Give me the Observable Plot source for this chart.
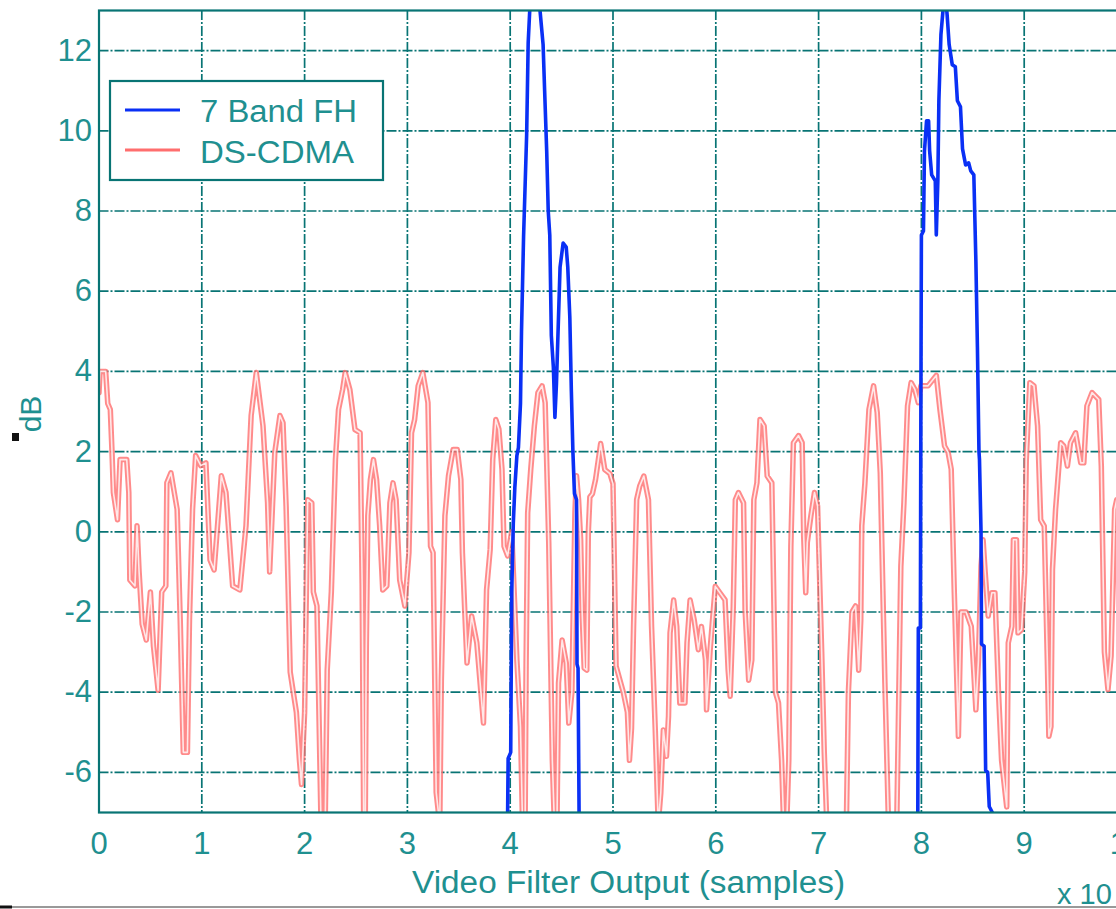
<!DOCTYPE html>
<html>
<head>
<meta charset="utf-8">
<script src="https://cdn.jsdelivr.net/npm/d3@7"></script>
<script src="https://cdn.jsdelivr.net/npm/@observablehq/plot@0.6"></script>
<style>
  html, body { margin: 0; padding: 0; overflow: hidden; background: #fff; }
  #chart svg { max-width: none !important; display: block; }
</style>
</head>
<body>
<div id="chart"></div>
<script>
const xTicks = [0, 1, 2, 3, 4, 5, 6, 7, 8, 9, 10];
const yTicks = [-6, -4, -2, 0, 2, 4, 6, 8, 10, 12];
const seriesNames = ["7 Band FH", "DS-CDMA"];

// DS-CDMA trace (x in units of 10^4 samples, y in dB)
const cdmaX = [0.00,0.01,0.065,0.085,0.11,0.125,0.14,0.18,0.205,0.27,0.29,0.30,0.35,0.37,0.39,0.42,0.46,0.50,0.53,0.575,0.61,0.65,0.66,0.70,0.76,0.79,0.82,0.86,0.88,0.91,0.94,0.99,1.04,1.08,1.12,1.19,1.235,1.30,1.37,1.43,1.48,1.53,1.595,1.64,1.66,1.71,1.76,1.79,1.82,1.86,1.92,1.95,1.97,2.00,2.03,2.07,2.085,2.12,2.16,2.20,2.22,2.26,2.30,2.33,2.37,2.395,2.44,2.49,2.54,2.56,2.575,2.59,2.60,2.615,2.64,2.67,2.70,2.73,2.76,2.80,2.83,2.86,2.89,2.925,2.975,3.015,3.04,3.07,3.105,3.15,3.20,3.225,3.25,3.28,3.315,3.33,3.365,3.40,3.445,3.485,3.52,3.535,3.56,3.58,3.625,3.675,3.715,3.74,3.77,3.805,3.83,3.86,3.89,3.92,3.94,3.975,4.015,4.065,4.10,4.12,4.145,4.155,4.17,4.20,4.235,4.27,4.31,4.34,4.375,4.41,4.43,4.455,4.47,4.505,4.545,4.57,4.60,4.63,4.645,4.665,4.685,4.70,4.72,4.745,4.76,4.775,4.80,4.83,4.88,4.92,4.97,5.00,5.03,5.10,5.14,5.16,5.18,5.20,5.23,5.26,5.30,5.345,5.375,5.41,5.44,5.465,5.49,5.52,5.54,5.555,5.59,5.62,5.65,5.70,5.72,5.75,5.79,5.83,5.86,5.90,5.91,5.945,5.995,6.04,6.09,6.12,6.14,6.17,6.19,6.22,6.27,6.285,6.32,6.35,6.37,6.40,6.43,6.47,6.50,6.545,6.58,6.61,6.64,6.66,6.69,6.71,6.73,6.755,6.805,6.84,6.855,6.875,6.89,6.925,6.96,6.99,7.03,7.055,7.08,7.27,7.29,7.325,7.36,7.39,7.41,7.42,7.45,7.49,7.535,7.57,7.60,7.645,7.68,7.76,7.80,7.83,7.865,7.90,7.935,7.97,7.995,8.065,8.145,8.18,8.225,8.26,8.29,8.32,8.36,8.385,8.435,8.485,8.53,8.555,8.58,8.60,8.62,8.65,8.685,8.715,8.75,8.78,8.83,8.845,8.88,8.895,8.925,8.94,8.975,9.005,9.02,9.055,9.095,9.13,9.16,9.195,9.225,9.24,9.26,9.275,9.305,9.355,9.385,9.42,9.45,9.50,9.55,9.58,9.61,9.66,9.725,9.75,9.78,9.815,9.845,9.88,9.90,9.915,9.93,9.95];
const cdmaY = [3.47,4.0,4.0,3.2,3.05,2.1,0.98,0.3,1.8,1.8,0.98,-1.2,-1.35,0.15,-1.0,-2.3,-2.7,-1.5,-2.85,-3.95,-1.5,-1.35,1.22,1.47,0.56,-2.2,-5.5,-5.5,-2.2,0.56,1.9,1.65,1.72,-0.7,-0.95,1.4,0.98,-1.35,-1.45,0.15,2.9,3.97,2.65,0.72,-1.0,1.98,2.9,2.72,0.64,-3.5,-4.5,-5.7,-6.3,-4.5,0.8,0.72,-1.5,-1.85,-7.3,-7.3,-3.45,-1.5,1.8,3.05,3.55,3.97,3.55,2.55,2.47,-1.35,-7.3,-7.3,-2.9,0.4,1.3,1.8,1.3,0.15,-1.45,-1.35,0.72,1.22,0.8,-1.2,-1.85,-0.52,2.47,2.8,3.64,3.97,3.22,-0.36,-0.52,-6.5,-7.3,-3.7,0.4,1.4,2.05,2.05,1.3,-0.52,-2.1,-3.27,-2.1,-2.77,-4.0,-4.77,-1.45,-0.44,1.8,2.8,2.56,1.56,-0.36,-0.6,0.0,-3.2,-4.86,-7.3,-7.3,-3.2,0.47,1.56,2.64,3.47,3.64,3.22,-0.27,-5.7,-7.3,-7.3,-3.77,-2.7,-3.27,-4.77,-4.0,0.5,1.4,0.8,-0.2,-2.0,-3.4,-3.45,0.0,0.87,0.95,1.3,2.2,1.55,1.45,1.2,-3.35,-4.0,-4.5,-5.7,-4.9,-2.36,0.8,1.14,1.39,0.8,-2.36,-4.86,-7.3,-6.5,-4.94,-5.6,-4.6,-2.52,-1.7,-2.36,-4.27,-4.27,-2.77,-1.7,-2.2,-2.94,-2.36,-3.2,-4.44,-2.94,-1.36,-1.52,-1.7,-3.44,-4.1,-1.86,0.8,0.98,0.72,-1.94,-3.7,-3.2,0.8,1.22,2.8,2.64,1.39,1.22,-4.0,-4.27,-5.7,-7.3,-7.3,-5.7,-0.36,2.22,2.4,2.22,-0.1,-1.52,-0.27,0.4,0.98,0.64,-3.0,-5.5,-7.3,-7.3,-4.0,-2.0,-1.85,-3.45,-2.2,0.15,1.2,3.05,3.64,2.97,1.47,-3.77,-7.3,-7.3,-0.86,0.72,3.14,3.72,3.56,3.22,3.64,3.64,3.9,3.06,2.14,1.98,1.56,-1.52,-5.1,-2.0,-2.0,-2.36,-4.44,-3.2,-0.86,-0.2,-1.0,-2.1,-1.52,-1.52,-4.0,-5.7,-6.86,-2.77,-2.36,-0.2,-0.2,-2.52,-2.44,-1.0,1.8,3.72,3.64,2.64,0.3,0.14,-3.2,-5.1,-4.86,-0.94,0.56,2.22,2.14,1.64,2.22,2.47,1.72,1.72,3.14,3.47,3.3,1.64,-3.0,-3.94,-3.1,0.56,0.8,-1.0,-4.0,-4.0];

// 7 Band FH trace: off the chart (below -7 dB) except two bursts
const fhX = [3.96,3.975,3.98,4.005,4.015,4.03,4.045,4.065,4.08,4.10,4.11,4.13,4.16,4.175,4.19,4.20,4.28,4.29,4.32,4.335,4.355,4.37,4.385,4.40,4.42,4.435,4.45,4.485,4.515,4.545,4.56,4.58,4.595,4.61,4.625,4.645,4.647,4.65,4.66,4.67,4.685,7.955,7.965,7.97,7.99,7.995,8.00,8.02,8.03,8.05,8.07,8.08,8.10,8.135,8.145,8.16,8.17,8.19,8.21,8.22,8.24,8.25,8.27,8.30,8.33,8.35,8.38,8.40,8.43,8.46,8.48,8.51,8.53,8.545,8.56,8.565,8.58,8.585,8.61,8.625,8.645,8.66,8.69,8.70];
const fhY = [-9,-7.0,-5.65,-5.5,-1.5,0.2,1.1,1.9,2.1,3.2,5.0,7.35,9.9,12.2,13.0,14,14,13.0,12.15,11.0,9.5,8.0,7.4,4.9,4.1,2.85,3.7,6.6,7.2,7.1,6.6,5.35,3.5,2.0,0.95,0.8,-0.7,-3.3,-3.4,-7.0,-9,-9,-7.0,-2.4,-2.4,3.2,7.4,7.5,9.5,10.25,10.25,9.5,8.9,8.75,7.4,8.75,10.75,12.4,13.0,13.3,13.2,12.9,12.15,11.65,11.6,10.75,10.6,9.55,9.15,9.2,9.0,8.9,6.75,4.6,2.0,1.8,0.0,-2.8,-2.85,-5.95,-6.0,-6.85,-7.0,-9];

const cdma = cdmaX.map((x, i) => ({x, y: cdmaY[i]}));
const fh = fhX.map((x, i) => ({x, y: fhY[i]}));

const TEAL = "#087474";
const TEXT = "#1f9090";
const RED = "#ff6e6e";
const BLUE = "#0a30f5";

const chart = Plot.plot({
  width: 1135,
  height: 909,
  marginLeft: 98.5,
  marginRight: 8.5,
  marginTop: 10,
  marginBottom: 97,
  style: {fontFamily: "'Liberation Sans', Arial, sans-serif", fontSize: "31px", color: TEXT, background: "white", maxWidth: "none"},
  x: {domain: [0, 10], ticks: xTicks, tickSize: 0, tickPadding: 19, label: null, tickFormat: d => String(d)},
  y: {domain: [-7, 13], ticks: yTicks, tickSize: 0, tickPadding: 7, label: null, tickFormat: d => String(d)},
  marks: [
    Plot.ruleX(xTicks, {stroke: TEAL, strokeWidth: 1.7, strokeDasharray: "10,2,2,2"}),
    Plot.ruleY(yTicks, {stroke: TEAL, strokeWidth: 1.7, strokeDasharray: "10,2,2,2"}),
    Plot.line(cdma, {x: "x", y: "y", stroke: RED, strokeWidth: 5.5, strokeOpacity: 0.8, clip: true}),
    Plot.line(cdma, {x: "x", y: "y", stroke: "#ffe8e8", strokeWidth: 1.6, clip: true}),
    Plot.line(fh, {x: "x", y: "y", stroke: BLUE, strokeWidth: 3.6, clip: true}),
    Plot.frame({stroke: TEAL, strokeWidth: 2.2})
  ]
});
document.getElementById("chart").appendChild(chart);

const svg = d3.select(chart);
const font = "'Liberation Sans', Arial, sans-serif";

// legend
const lg = svg.append("g");
lg.append("rect").attr("x", 110).attr("y", 81).attr("width", 273).attr("height", 99)
  .attr("fill", "white").attr("stroke", TEAL).attr("stroke-width", 2.2);
lg.append("line").attr("x1", 125).attr("x2", 180).attr("y1", 110).attr("y2", 110)
  .attr("stroke", BLUE).attr("stroke-width", 3);
lg.append("line").attr("x1", 125).attr("x2", 180).attr("y1", 150).attr("y2", 150)
  .attr("stroke", RED).attr("stroke-width", 3);
lg.append("text").attr("x", 200).attr("y", 122).attr("text-anchor", "start")
  .attr("textLength", 157).attr("lengthAdjust", "spacingAndGlyphs").text(seriesNames[0])
  .attr("fill", TEXT).attr("font-family", font).attr("font-size", 31);
lg.append("text").attr("x", 200).attr("y", 163).attr("text-anchor", "start")
  .attr("textLength", 154).attr("lengthAdjust", "spacingAndGlyphs").text(seriesNames[1])
  .attr("fill", TEXT).attr("font-family", font).attr("font-size", 31);

// axis labels
svg.append("text").attr("x", 412).attr("y", 893).attr("text-anchor", "start")
  .attr("textLength", 433).attr("lengthAdjust", "spacingAndGlyphs")
  .attr("fill", TEXT).attr("font-family", font).attr("font-size", 31)
  .text("Video Filter Output (samples)");
svg.append("text").attr("transform", "translate(41,414) rotate(-90)").attr("text-anchor", "middle")
  .attr("fill", TEXT).attr("font-family", font).attr("font-size", 30).text("dB");
svg.append("rect").attr("x", 12).attr("y", 433).attr("width", 7).attr("height", 8).attr("fill", "#111");
svg.append("text").attr("x", 1057).attr("y", 904).attr("text-anchor", "start")
  .attr("fill", TEXT).attr("font-family", font).attr("font-size", 29).text("x 10");
svg.append("line").attr("x1", 0).attr("x2", 1135).attr("y1", 907).attr("y2", 907)
  .attr("stroke", "#777").attr("stroke-width", 1.5);
svg.append("rect").attr("x", 0).attr("y", 905.5).attr("width", 12).attr("height", 3).attr("fill", "#111");
</script>
</body>
</html>
